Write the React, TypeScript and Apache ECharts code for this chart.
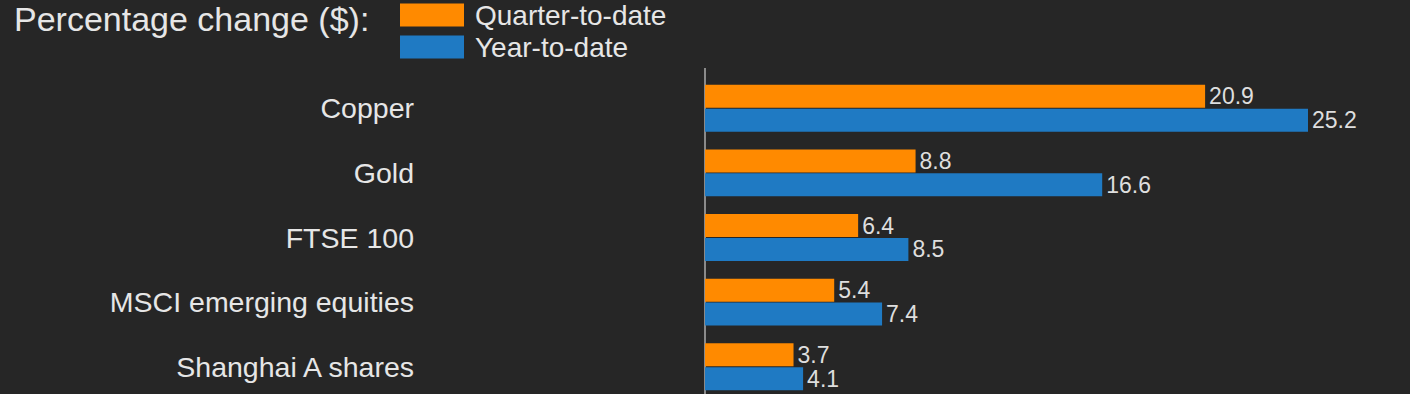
import React, { useEffect, useRef } from "react";
import * as echarts from "echarts";

const categories = ["Copper", "Gold", "FTSE 100", "MSCI emerging equities", "Shanghai A shares"];
const quarterToDate = [20.9, 8.8, 6.4, 5.4, 3.7];
const yearToDate = [25.2, 16.6, 8.5, 7.4, 4.1];
const titleText = "Percentage change ($):";
const seriesNames = ["Quarter-to-date", "Year-to-date"];

const FONT = "'Liberation Sans', Arial, sans-serif";

export default function App() {
  const ref = useRef<HTMLDivElement>(null);
  useEffect(() => {
    document.body.style.margin = "0";
    document.body.style.background = "#262626";
    const chart = echarts.init(ref.current!, null, { renderer: "svg" });
    const labelCommon = {
      show: true,
      position: "right",
      distance: 4,
      color: "#dedede",
      fontSize: 23,
      fontFamily: FONT,
      formatter: (p: any) => p.value.toFixed(1),
    };
    chart.setOption({
      animation: false,
      backgroundColor: "#262626",
      title: {
        text: titleText,
        left: 14,
        top: 2,
        padding: 0,
        textStyle: { fontSize: 34, fontWeight: "normal", color: "#e6e6e6", fontFamily: FONT },
      },
      legend: {
        orient: "vertical",
        left: 400,
        top: 1,
        padding: 0,
        itemWidth: 64,
        itemHeight: 23,
        itemGap: 4,
        icon: "rect",
        selectedMode: false,
        data: seriesNames,
        textStyle: { fontSize: 28, color: "#e6e6e6", fontFamily: FONT, lineHeight: 23, padding: [0, 0, 0, 6] },
      },
      grid: { left: 705, top: 76, height: 323, width: 670, containLabel: false },
      xAxis: {
        type: "value",
        min: 0,
        max: 28,
        show: false,
      },
      yAxis: {
        type: "category",
        data: categories,
        inverse: true,
        axisLine: { show: true, lineStyle: { color: "#8a8a8a", width: 2 } },
        axisTick: { show: false },
        axisLabel: { margin: 291, fontSize: 28.5, color: "#e6e6e6", fontFamily: FONT, padding: [3, 0, 0, 0] },
      },
      graphic: [
        { type: "line", shape: { x1: 705, y1: 68, x2: 705, y2: 77 }, style: { stroke: "#8a8a8a", lineWidth: 2 } },
      ],
      series: [
        {
          name: seriesNames[0],
          type: "bar",
          data: quarterToDate,
          barWidth: 23,
          barGap: "4%",
          itemStyle: { color: "#FF8A00" },
          label: labelCommon,
        },
        {
          name: seriesNames[1],
          type: "bar",
          data: yearToDate,
          barWidth: 23,
          barGap: "4%",
          itemStyle: { color: "#1F7AC3" },
          label: labelCommon,
        },
      ],
    });
    return () => chart.dispose();
  }, []);
  return <div ref={ref} style={{ position: "fixed", left: 0, top: 0, width: 1410, height: 410 }} />;
}
